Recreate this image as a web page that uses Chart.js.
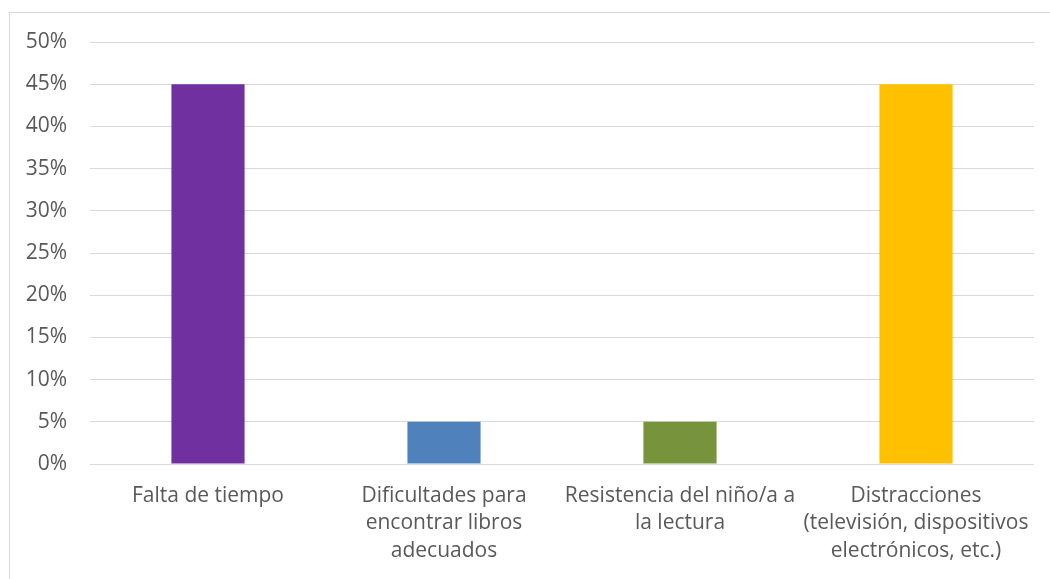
<!DOCTYPE html>
<html>
<head>
<meta charset="utf-8">
<script src="https://cdn.jsdelivr.net/npm/chart.js@4"></script>
<style>
  html, body { margin: 0; padding: 0; background: #fff; overflow: hidden; }
  #wrap { position: relative; width: 1050px; height: 579px; }
  #frame { position: absolute; left: 9px; top: 12px; width: 1100px; height: 700px; border: 1px solid #D9D9D9; }
  #barChart { position: absolute; left: 0; top: 0; }
</style>
</head>
<body>
<div id="wrap">
  <div id="frame"></div>
  <canvas id="barChart" width="1050" height="579"></canvas>
</div>
<script>
// datos del gráfico
const categorias = [
  ["Falta de tiempo"],
  ["Dificultades para", "encontrar libros", "adecuados"],
  ["Resistencia del niño/a a", "la lectura"],
  ["Distracciones", "(televisión, dispositivos", "electrónicos, etc.)"],
];
const valores = [45, 5, 5, 45];
const colores = ["#7030A0", "#4F81BD", "#77933C", "#FFC000"];

const ctx = document.getElementById("barChart");

new Chart(ctx, {
  type: "bar",
  data: {
    labels: categorias,
    datasets: [
      {
        data: valores,
        backgroundColor: colores,
        borderWidth: 0,
        categoryPercentage: 1,
        barPercentage: 0.31,
      },
    ],
  },
  options: {
    responsive: false,
    animation: false,
    layout: { padding: { left: 0, right: 16, top: 42, bottom: 0 } },
    plugins: {
      legend: { display: false },
      tooltip: { enabled: false },
    },
    scales: {
      x: {
        grid: { display: false, drawTicks: false },
        border: { display: false },
        ticks: {
          color: "#595959",
          font: { family: "Open Sans", size: 21, lineHeight: 1.31 },
          maxRotation: 0,
          autoSkip: false,
          padding: 18,
        },
        afterFit: (scale) => { scale.height = 115; },
      },
      y: {
        min: 0,
        max: 50,
        grid: { color: "#D9D9D9", lineWidth: 1, drawTicks: false },
        border: { display: false },
        ticks: {
          stepSize: 5,
          color: "#595959",
          font: { family: "Open Sans", size: 21 },
          padding: 23,
          callback: (v) => v + "%",
        },
        afterFit: (scale) => { scale.width = 90; },
      },
    },
  },
});
</script>
</body>
</html>
